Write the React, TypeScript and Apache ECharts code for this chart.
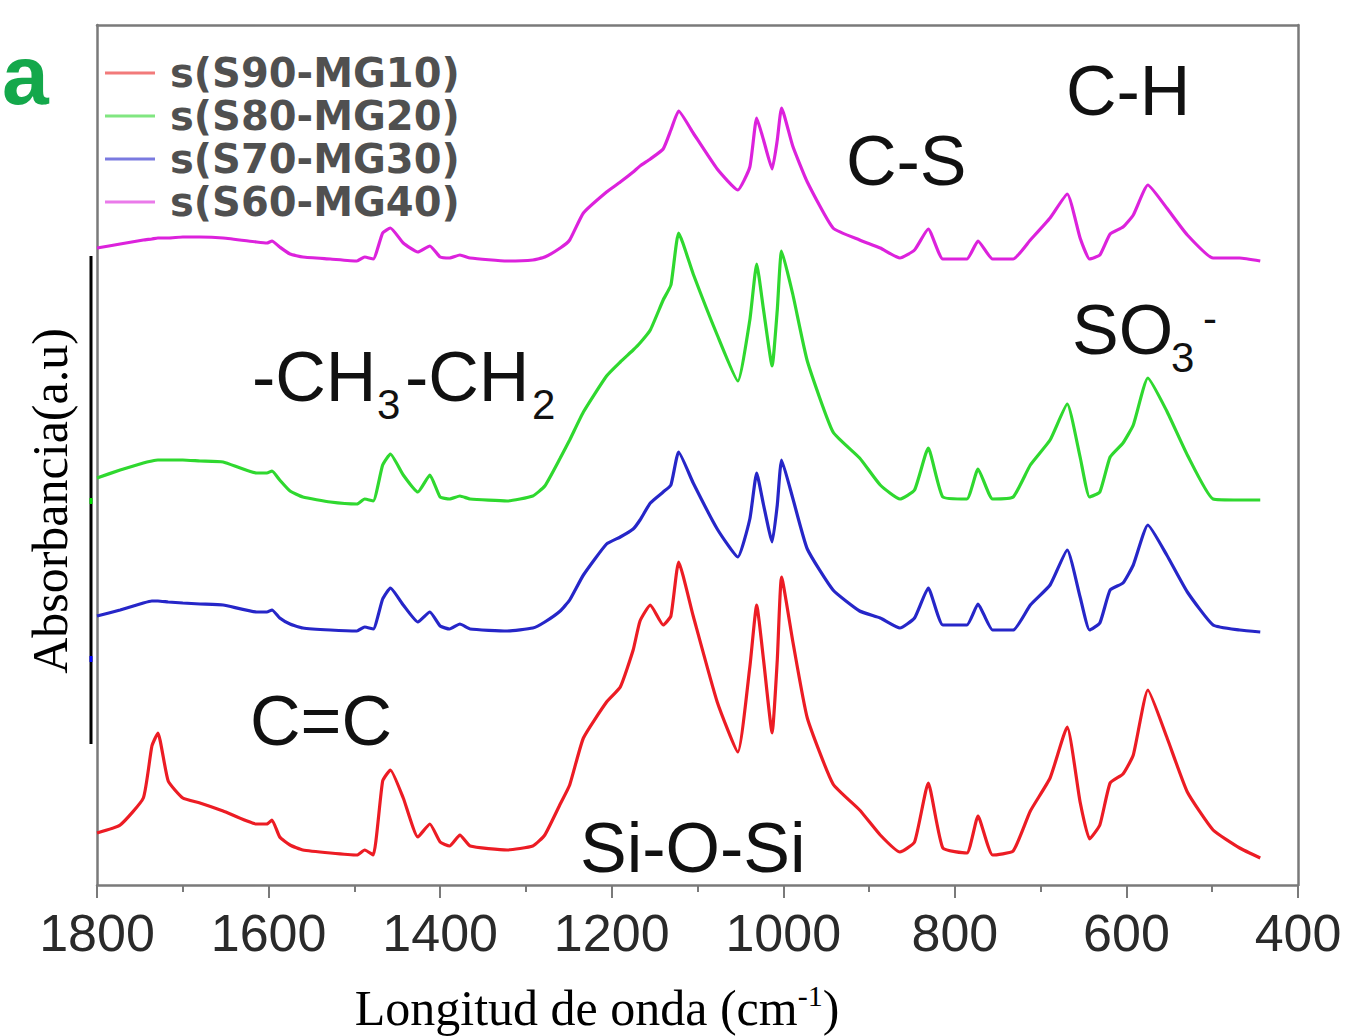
import React, { useEffect, useRef } from "react";
import * as echarts from "echarts";

// Wavenumber (cm-1) sampling positions
const wavenumbers = [
  1800, 1773, 1746, 1736, 1729, 1717, 1700, 1680, 1653, 1614,
  1602, 1596, 1587, 1575, 1560, 1528, 1497, 1488, 1478, 1467,
  1458, 1443, 1426, 1412, 1400, 1389, 1377, 1365, 1322, 1292,
  1278, 1260, 1249, 1233, 1206, 1190, 1175, 1167, 1155, 1140,
  1131, 1122, 1105, 1077, 1053, 1039, 1031, 1023, 1013, 1007,
  1002, 989, 972, 942, 911, 887, 864, 847, 831, 814,
  786, 773, 756, 732, 712, 689, 669, 654, 643, 631,
  619, 604, 592, 575, 553, 529, 499, 468, 444,
];

// Absorbance (a.u., stacked/offset as in the figure)
const s90mg10 = [
  52, 60, 87, 139, 152, 104, 87, 82, 74, 61,
  61, 65, 48, 40, 35, 32, 30, 35, 30, 104,
  115, 87, 48, 61, 43, 39, 50, 39, 35, 39,
  50, 81, 100, 147, 183, 198, 235, 264, 280, 260,
  269, 323, 269, 183, 133, 218, 280, 225, 152, 225,
  308, 244, 167, 101, 75, 50, 33, 43, 102, 37,
  32, 69, 30, 34, 74, 107, 158, 83, 46, 60,
  102, 111, 130, 195, 148, 93, 55, 37, 27,
];
const s80mg20 = [
  407, 415, 422, 424, 425, 425, 425, 424, 423, 412,
  412, 414, 405, 394, 388, 383, 381, 386, 384, 420,
  431, 410, 393, 410, 388, 386, 389, 386, 384, 389,
  399, 427, 445, 473, 509, 523, 535, 542, 555, 585,
  600, 652, 611, 550, 504, 565, 621, 575, 519, 575,
  634, 591, 524, 453, 427, 400, 386, 395, 437, 388,
  386, 416, 386, 388, 420, 445, 481, 428, 388, 393,
  428, 442, 460, 507, 474, 430, 386, 385, 385,
];
const s70mg30 = [
  269, 275, 282, 284, 284, 283, 282, 281, 280, 273,
  273, 275, 267, 261, 257, 255, 254, 258, 256, 286,
  297, 280, 263, 273, 259, 256, 261, 256, 254, 257,
  263, 274, 285, 310, 341, 348, 356, 365, 382, 393,
  400, 433, 402, 356, 328, 366, 412, 380, 343, 380,
  425, 387, 336, 295, 274, 267, 257, 267, 297, 260,
  260, 281, 255, 255, 280, 300, 335, 288, 255, 262,
  295, 302, 320, 360, 330, 293, 260, 255, 253,
];
const s60mg40 = [
  637, 641, 645, 646, 647, 647, 648, 648, 647, 643,
  642, 644, 638, 631, 628, 626, 624, 628, 626, 652,
  657, 642, 633, 639, 628, 627, 630, 627, 624, 625,
  628, 637, 645, 672, 693, 703, 713, 719, 726, 736,
  755, 774, 752, 716, 695, 718, 767, 745, 716, 745,
  777, 739, 703, 657, 645, 637, 627, 635, 656, 626,
  626, 644, 626, 626, 645, 667, 691, 647, 626, 630,
  651, 658, 670, 700, 677, 650, 627, 627, 624,
];

const seriesNames = ["s(S90-MG10)", "s(S80-MG20)", "s(S70-MG30)", "s(S60-MG40)"];
const seriesValues = [s90mg10, s80mg20, s70mg30, s60mg40];
const seriesColors = ["#ec1c24", "#2fd82f", "#2626c8", "#dc22dc"];
const legendColors = ["#f27a7a", "#80e680", "#7a7ae0", "#ea7aea"];

const SANS = "Liberation Sans, Arial, sans-serif";
const SERIF = "Liberation Serif, Times New Roman, serif";

function txt(text: string, x: number, y: number, size: number, extra: any = {}) {
  return {
    type: "text",
    x,
    y,
    silent: true,
    style: {
      text,
      fontSize: size,
      fontFamily: SANS,
      fill: "#111",
      align: "left",
      verticalAlign: "middle",
      textAlign: "left",
      textVerticalAlign: "middle",
      ...extra,
    },
  };
}

export default function App() {
  const ref = useRef<HTMLDivElement>(null);
  useEffect(() => {
    document.body.style.margin = "0";
    const chart = echarts.init(ref.current!, undefined, { renderer: "svg" });
    const frameColor = "#7a7a7a";
    const option: any = {
      animation: false,
      backgroundColor: "#ffffff",
      grid: { left: 97, right: 51, top: 25, bottom: 151 },
      legend: {
        orient: "vertical",
        left: 105,
        top: 53,
        padding: 0,
        itemGap: 3,
        itemWidth: 50,
        itemHeight: 3,
        icon: "rect",
        textStyle: {
          fontFamily: "DejaVu Sans",
          fontWeight: "bold",
          fontSize: 40,
          lineHeight: 40,
          color: "#505050",
          padding: [0, 0, 0, 10],
        },
        data: seriesNames.map((n, i) => ({ name: n, itemStyle: { color: legendColors[i] } })),
      },
      xAxis: [
        {
          type: "value",
          position: "bottom",
          min: 400,
          max: 1800,
          interval: 200,
          inverse: true,
          axisLine: { show: true, onZero: false, lineStyle: { color: frameColor, width: 2.5 } },
          axisTick: { show: true, inside: false, length: 13, lineStyle: { color: frameColor, width: 2 } },
          minorTick: { show: true, splitNumber: 2, length: 7, lineStyle: { color: frameColor, width: 2 } },
          axisLabel: {
            fontSize: 52,
            color: "#2a2a2a",
            margin: 22,
            fontFamily: SANS,
            formatter: (v: number) => String(v),
          },
          splitLine: { show: false },
        },
        {
          type: "value",
          position: "top",
          min: 400,
          max: 1800,
          inverse: true,
          axisLine: { show: true, onZero: false, lineStyle: { color: frameColor, width: 2.5 } },
          axisTick: { show: false },
          axisLabel: { show: false },
          splitLine: { show: false },
        },
      ],
      yAxis: [
        {
          type: "value",
          position: "left",
          min: 0,
          max: 860,
          axisLine: { show: true, onZero: false, lineStyle: { color: frameColor, width: 2.5 } },
          axisTick: { show: false },
          axisLabel: { show: false },
          splitLine: { show: false },
        },
        {
          type: "value",
          position: "right",
          min: 0,
          max: 860,
          axisLine: { show: true, onZero: false, lineStyle: { color: frameColor, width: 2.5 } },
          axisTick: { show: false },
          axisLabel: { show: false },
          splitLine: { show: false },
        },
      ],
      series: seriesNames.map((name, i) => ({
        name,
        type: "line",
        xAxisIndex: 0,
        yAxisIndex: 0,
        showSymbol: false,
        smooth: 0.15,
        lineStyle: { color: seriesColors[i], width: 3.2 },
        itemStyle: { color: seriesColors[i] },
        data: wavenumbers.map((w, k) => [w, seriesValues[i][k]]),
      })),
      graphic: [
        // panel letter
        txt("a", 2, 75, 84, { fontWeight: "bold", fill: "#14a84b" }),
        // band annotations
        txt("C-H", 1066, 91, 70),
        txt("C-S", 846, 161, 70),
        txt("SO", 1072, 330, 70),
        txt("3", 1171, 357, 42),
        txt("-", 1203, 318, 42),
        txt("-CH", 252, 377, 70),
        txt("3", 377, 404, 42),
        txt("-CH", 405, 377, 70),
        txt("2", 532, 404, 42),
        txt("C=C", 250, 721, 70),
        txt("Si-O-Si", 580, 848, 70),
        // left marker bar
        {
          type: "line",
          silent: true,
          shape: { x1: 91, y1: 256, x2: 91, y2: 744 },
          style: { stroke: "#000", lineWidth: 3 },
        },
        { type: "rect", silent: true, shape: { x: 89.5, y: 498, width: 3, height: 6 }, style: { fill: "#00dd00" } },
        { type: "rect", silent: true, shape: { x: 89.5, y: 656, width: 3, height: 6 }, style: { fill: "#0000ff" } },
        // axis titles
        {
          type: "text",
          x: 50,
          y: 501,
          rotation: Math.PI / 2,
          silent: true,
          style: {
            text: "Absorbancia(a.u)",
            fontSize: 50,
            fontFamily: SERIF,
            fill: "#000",
            align: "center",
            verticalAlign: "middle",
            textAlign: "center",
            textVerticalAlign: "middle",
          },
        },
        {
          type: "text",
          x: 597,
          y: 1008,
          silent: true,
          style: {
            text: "{n|Longitud de onda (cm}{s|-1}{n|)}",
            fill: "#000",
            align: "center",
            verticalAlign: "middle",
            textAlign: "center",
            textVerticalAlign: "middle",
            rich: {
              n: { fontSize: 50, fontFamily: SERIF, fill: "#000", lineHeight: 56 },
              s: { fontSize: 30, fontFamily: SERIF, fill: "#000", lineHeight: 30, verticalAlign: "top" },
            },
          },
        },
      ],
    };
    chart.setOption(option);
    return () => chart.dispose();
  }, []);
  return (
    <div
      ref={ref}
      style={{ position: "absolute", left: 0, top: 0, width: 1349, height: 1036, background: "#fff" }}
    />
  );
}
